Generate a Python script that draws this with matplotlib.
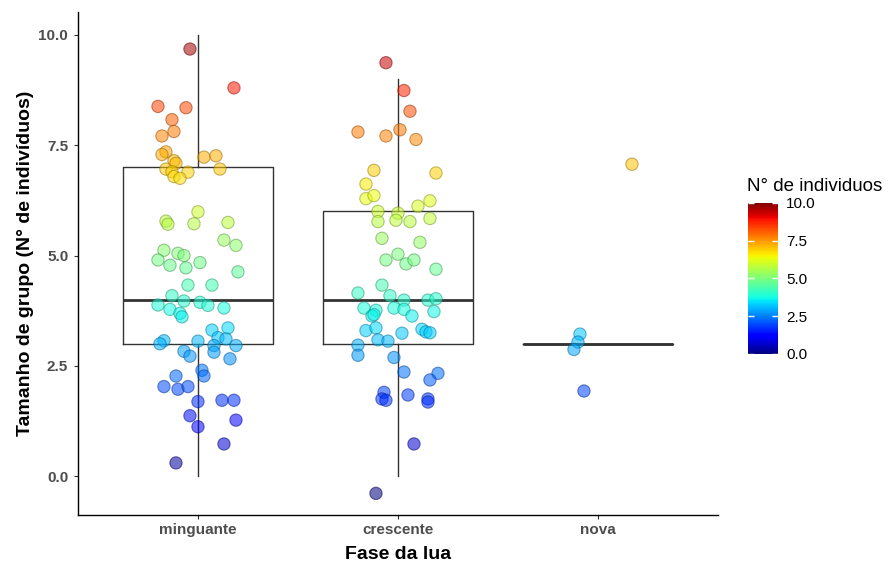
import numpy as np
import matplotlib
matplotlib.use('Agg')
import matplotlib.pyplot as plt
from matplotlib import cm, colors

plt.rcParams['font.family'] = ['Liberation Sans', 'DejaVu Sans']

# categorias e estatisticas do boxplot
fases = ['minguante', 'crescente', 'nova']
q1 = [3, 3, 3]
mediana = [4, 4, 3]
q3 = [7, 6, 3]
whis_lo = [0, 0, 3]
whis_hi = [10, 9, 3]

# pontos com jitter (deslocamento em x relativo a categoria, valor em y)
ming_dx = [-0.04, 0.18, -0.20, -0.06, -0.13, -0.12, -0.18, -0.16, -0.18, 0.03,
           0.09, -0.12, -0.11, -0.16, -0.13, -0.05, 0.11, -0.12, -0.09, 0.00,
           -0.16, -0.15, -0.02, 0.15, 0.13, 0.19, -0.17, -0.10, -0.07, -0.20,
           -0.14, -0.06, 0.01, 0.20, -0.05, 0.07, -0.13, -0.07, -0.20, 0.01,
           0.05, -0.14, 0.13, -0.09, -0.08, 0.07, 0.15, 0.10, 0.14, -0.17,
           -0.19, 0.00, 0.08, 0.19, 0.08, -0.07, -0.04, 0.16, 0.02, 0.03,
           -0.11, -0.17, -0.10, -0.05, 0.00, 0.12, 0.18, -0.04, 0.19, 0.00,
           0.13, -0.11]
ming_y = [9.68, 8.80, 8.38, 8.35, 8.08, 7.81, 7.71, 7.35, 7.29, 7.23,
          7.26, 7.15, 7.09, 6.96, 6.90, 6.89, 6.96, 6.79, 6.75, 5.99,
          5.78, 5.71, 5.72, 5.75, 5.35, 5.23, 5.12, 5.05, 5.00, 4.90,
          4.78, 4.72, 4.84, 4.63, 4.33, 4.33, 4.09, 3.97, 3.88, 3.94,
          3.87, 3.78, 3.81, 3.69, 3.61, 3.31, 3.36, 3.14, 3.11, 3.07,
          3.00, 3.06, 2.96, 2.96, 2.81, 2.83, 2.72, 2.66, 2.40, 2.27,
          2.27, 2.03, 1.97, 2.03, 1.69, 1.72, 1.72, 1.37, 1.27, 1.12,
          0.73, 0.30]

cresc_dx = [-0.06, 0.03, 0.06, -0.20, -0.06, 0.01, 0.09, -0.12, 0.19, -0.16,
            -0.16, -0.12, 0.16, 0.10, -0.10, 0.00, -0.10, -0.01, 0.06, 0.16,
            -0.08, 0.11, -0.06, 0.00, 0.04, 0.08, 0.19, -0.08, -0.20, -0.04,
            0.03, 0.15, 0.19, -0.17, -0.11, -0.02, 0.03, -0.13, -0.12, 0.07,
            0.18, -0.16, -0.11, 0.02, 0.12, 0.14, 0.16, -0.10, -0.05, -0.20,
            -0.20, -0.02, 0.03, 0.20, 0.16, -0.07, -0.08, -0.06, 0.05, 0.15,
            0.15, 0.08, -0.11]
cresc_y = [9.37, 8.74, 8.27, 7.80, 7.71, 7.85, 7.63, 6.93, 6.87, 6.62,
           6.29, 6.36, 6.24, 6.12, 6.00, 5.96, 5.77, 5.80, 5.77, 5.84,
           5.39, 5.30, 4.90, 5.03, 4.81, 4.90, 4.69, 4.33, 4.15, 4.09,
           3.99, 3.99, 4.02, 3.81, 3.76, 3.81, 3.78, 3.63, 3.66, 3.63,
           3.73, 3.30, 3.36, 3.24, 3.33, 3.27, 3.25, 3.09, 3.06, 2.97,
           2.74, 2.69, 2.36, 2.33, 2.18, 1.90, 1.75, 1.72, 1.84, 1.75,
           1.68, 0.73, -0.39]

nova_dx = [0.17, -0.09, -0.10, -0.12, -0.07]
nova_y = [7.07, 3.22, 3.04, 2.87, 1.93]

fig = plt.figure(figsize=(8.89, 5.70), dpi=100)
ax = fig.add_axes([0.0877, 0.0965, 0.7199, 0.8825])

stats = []
for i in range(3):
    stats.append(dict(med=mediana[i], q1=q1[i], q3=q3[i],
                      whislo=whis_lo[i], whishi=whis_hi[i], fliers=[]))

linha = dict(color='#333333', linewidth=1.0)
ax.bxp(stats, positions=[1, 2, 3], widths=0.75, showfliers=False, showcaps=False,
       boxprops=linha, whiskerprops=linha,
       medianprops=dict(color='#333333', linewidth=2.0), zorder=1)

cmap = plt.get_cmap('jet')
norm = colors.Normalize(vmin=0, vmax=10)

grupos = [(1, ming_dx, ming_y), (2, cresc_dx, cresc_y), (3, nova_dx, nova_y)]
for pos, dx, yy in grupos:
    xx = pos + np.array(dx)
    yy = np.array(yy)
    face = cmap(norm(yy))
    face[:, 3] = 0.55
    edge = face.copy()
    edge[:, :3] = edge[:, :3] * 0.6
    edge[:, 3] = 0.55
    ax.scatter(xx, yy, facecolors=face, edgecolors=edge, s=78,
               linewidths=0.8, zorder=3)

ax.set_xlim(0.4, 3.6)
ax.set_ylim(-0.88, 10.52)
ax.set_xticks([1, 2, 3])
ax.set_xticklabels(fases)
ax.set_yticks([0, 2.5, 5, 7.5, 10])
ax.set_yticklabels(['0.0', '2.5', '5.0', '7.5', '10.0'])

for s in ['top', 'right']:
    ax.spines[s].set_visible(False)
for s in ['left', 'bottom']:
    ax.spines[s].set_color('black')
    ax.spines[s].set_linewidth(1.0)

ax.tick_params(axis='both', length=3, width=0.8, color='#333333',
               labelcolor='#4D4D4D', labelsize=11)
ax.tick_params(axis='y', pad=4)
ax.tick_params(axis='x', pad=3)
for lab in ax.get_xticklabels() + ax.get_yticklabels():
    lab.set_fontweight('bold')

ax.set_xlabel('Fase da lua', fontsize=14, fontweight='bold')
ax.set_ylabel('Tamanho de grupo (N° de indivíduos)', fontsize=14, fontweight='bold')
ax.xaxis.set_label_coords(0.5, -0.062)
ax.yaxis.set_label_coords(-0.068, 0.5)

# barra de cores
cax = fig.add_axes([0.8414, 0.379, 0.0337, 0.265])
sm = cm.ScalarMappable(norm=norm, cmap=cmap)
cb = fig.colorbar(sm, cax=cax, ticks=[0, 2.5, 5, 7.5, 10])
cb.outline.set_visible(False)
cb.ax.set_yticklabels(['0.0', '2.5', '5.0', '7.5', '10.0'])
cax.tick_params(axis='y', direction='in', color='white', length=4, width=1,
                left=True, right=True, labelsize=11, labelcolor='black', pad=6)
fig.text(0.840, 0.665, 'N° de individuos', fontsize=13.5, ha='left', va='baseline')

fig.savefig('out.png', dpi=100)
